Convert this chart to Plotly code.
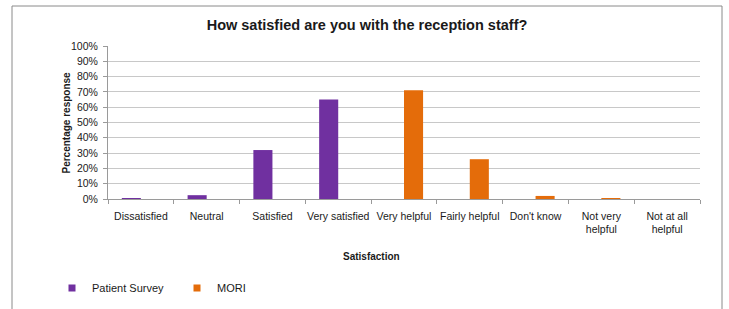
import plotly.graph_objects as go

categories = ["Dissatisfied", "Neutral", "Satisfied", "Very satisfied", "Very helpful",
              "Fairly helpful", "Don't know", "Not very<br>helpful", "Not at all<br>helpful"]
patient_survey = [0.6, 2.5, 32, 65, None, None, None, None, None]
mori = [None, None, None, None, 71, 26, 2, 0.6, 0]
y_ticks = [0, 10, 20, 30, 40, 50, 60, 70, 80, 90, 100]
y_tick_labels = [f"{v}%" for v in y_ticks]

PURPLE = "#7030A0"
ORANGE = "#E46C0A"
FONT = "Liberation Sans"

W, H = 729, 309
# plot area in window pixels
X0, X1, Y0, Y1 = 108, 700, 46, 199
L, R, T, B = X0, W - X1, Y0, H - Y1
PW, PH = X1 - X0, Y1 - Y0

def px(x):
    return (x - X0) / PW

def py(y):
    return (Y1 - y) / PH

fig = go.Figure()
fig.add_trace(go.Bar(x=categories, y=patient_survey, name="Patient Survey",
                     marker=dict(color=PURPLE, line=dict(width=0)), showlegend=False))
fig.add_trace(go.Bar(x=categories, y=mori, name="MORI",
                     marker=dict(color=ORANGE, line=dict(width=0)), showlegend=False))
# legend proxies
fig.add_trace(go.Scatter(x=[None], y=[None], mode="markers", name="Patient Survey",
                         marker=dict(symbol="square", size=7, color=PURPLE)))
fig.add_trace(go.Scatter(x=[None], y=[None], mode="markers", name="MORI",
                         marker=dict(symbol="square", size=7, color=ORANGE)))

frame = dict(color="#8A8A8A", width=1)
fig.update_layout(
    width=W, height=H,
    margin=dict(l=L, r=R, t=T, b=B, autoexpand=False),
    paper_bgcolor="white", plot_bgcolor="white",
    font=dict(family=FONT, size=10, color="#1a1a1a"),
    barmode="group", bargap=0.42, bargroupgap=0,
    title=dict(text="<b>How satisfied are you with the reception staff?</b>",
               x=367 / W, xanchor="center", y=1 - 25 / H, yanchor="middle",
               xref="container", yref="container", automargin=False,
               font=dict(family=FONT, size=14.5, color="#1a1a1a")),
    xaxis=dict(type="category", showline=True, linecolor="#9A9A9A", linewidth=1,
               ticks="outside", tickson="boundaries", ticklen=4, tickcolor="#9A9A9A",
               showgrid=False, tickfont=dict(size=10.5), tickangle=0, automargin=False,
               ticklabelstandoff=7),
    yaxis=dict(range=[0, 100], tickvals=y_ticks, ticktext=y_tick_labels,
               showline=True, linecolor="#9A9A9A", linewidth=1,
               ticks="outside", ticklen=4, tickcolor="#9A9A9A",
               showgrid=True, gridcolor="#C8C8C8", gridwidth=1, zeroline=False,
               tickfont=dict(size=10.5), automargin=False, ticklabelstandoff=3),
    legend=dict(orientation="h", x=px(52), y=py(288), xanchor="left", yanchor="middle",
                entrywidth=80, entrywidthmode="pixels", font=dict(size=11),
                itemwidth=30, bgcolor="rgba(0,0,0,0)"),
    annotations=[
        dict(text="<b>Satisfaction</b>", x=px(371), y=py(256), xref="paper", yref="paper",
             showarrow=False, xanchor="center", yanchor="middle", font=dict(size=10)),
        dict(text="<b>Percentage response</b>", x=px(66), y=py(122.5), xref="paper", yref="paper",
             showarrow=False, xanchor="center", yanchor="middle", textangle=-90, font=dict(size=10)),
    ],
    shapes=[
        dict(type="line", xref="paper", yref="paper", x0=px(12), x1=px(722), y0=py(6), y1=py(6),
             line=frame, layer="above"),
        dict(type="line", xref="paper", yref="paper", x0=px(12), x1=px(12), y0=py(6), y1=py(309),
             line=frame, layer="above"),
        dict(type="line", xref="paper", yref="paper", x0=px(722), x1=px(722), y0=py(6), y1=py(309),
             line=frame, layer="above"),
    ],
)

fig.write_html("out.html", config={"displayModeBar": False},
               post_script="document.body.style.margin='0';document.body.style.overflow='hidden';")
